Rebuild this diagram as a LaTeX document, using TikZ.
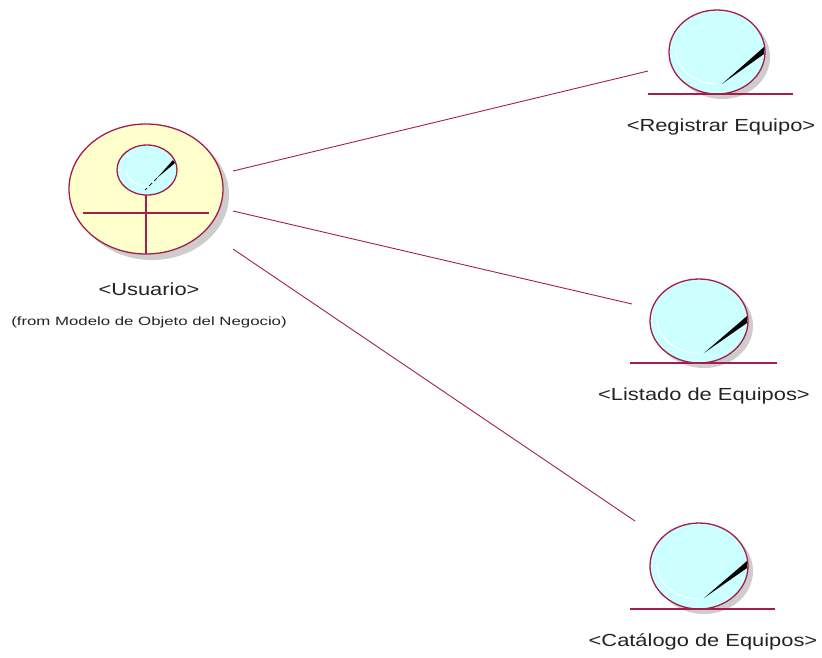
\documentclass[tikz,border=0pt]{standalone}
\usepackage{fontspec}
\setmainfont{Liberation Sans}
\newfontfamily\labfont[FakeStretch=1.25]{Liberation Sans}
\newfontfamily\smallfont[FakeStretch=1.4]{Liberation Sans}
\definecolor{umlline}{RGB}{165,30,75}
\definecolor{bluefill}{RGB}{204,255,255}
\definecolor{yellowfill}{RGB}{255,255,204}
\definecolor{shadowc}{RGB}{205,205,205}
\definecolor{txt}{RGB}{35,35,35}
\tikzset{
  umledge/.style={draw=umlline,line width=0.9pt},
  umlbar/.style={draw=umlline,line width=1.2pt},
  bluecirc/.style={draw=umlline,fill=bluefill,line width=1.3pt},
  yellowcirc/.style={draw=umlline,fill=yellowfill,line width=1.3pt},
  shade/.style={fill=shadowc,draw=none},
  shine/.style={draw=white,line width=1pt,line cap=round},
  lab/.style={font=\labfont\fontsize{17.5}{19}\selectfont,text=txt,inner sep=0pt},
  smalllab/.style={font=\smallfont\fontsize{12}{14}\selectfont,text=txt,inner sep=0pt},
}
\newcommand{\entity}[4]{%
  \fill[shade] (#1+5,#2+5) ellipse [x radius=#3,y radius=#4];
  \draw[bluecirc] (#1,#2) ellipse [x radius=#3,y radius=#4];
  \draw[shine] (#1-#3+7,#2-2) arc [start angle=180,end angle=90,x radius=#3-7,y radius=#4-8];
  \fill[black] (#1+#3-1,#2-5) -- (#1+#3-1,#2+2) -- (#1+5,#2+32) -- cycle;
}
\begin{document}
\begin{tikzpicture}[x=1pt,y=-1pt]
\useasboundingbox (0,0) rectangle (822,657);
% actor
\fill[shade] (152,195) ellipse [x radius=77,y radius=65];
\draw[yellowcirc] (146,189) ellipse [x radius=77,y radius=65];
\draw[bluecirc] (147,170) ellipse [x radius=30,y radius=25];
\draw[shine] (126,169) arc [start angle=180,end angle=90,x radius=21,y radius=17];
\fill[black] (173,160) -- (175,163) -- (157,178) -- cycle;
\draw[black,line width=0.7pt,dash pattern=on 4pt off 3pt] (157,178) -- (145,190);
\draw[umlbar] (83,213) -- (209,213);
\draw[umlbar] (146,195) -- (146,254);
% entities
\entity{717}{52}{48}{42}
\draw[umlbar] (648,94) -- (793,94);
\entity{699}{321}{49}{42}
\draw[umlbar] (630,363) -- (777,363);
\entity{699}{566}{49}{43}
\draw[umlbar] (630,609) -- (775,609);
% labels
\node[lab] (usuario) at (149,289) {<Usuario>};
\node[smalllab] (from) at (149,322) {(from Modelo de Objeto del Negocio)};
\node[lab] (reg) at (721,127) {<Registrar Equipo>};
\node[lab] (lis) at (704,396) {<Listado de Equipos>};
\node[lab] (cat) at (703,642) {<Catálogo de Equipos>};
% connectors
\coordinate (a1) at (233,171); \coordinate (e1) at (648,71);
\coordinate (a2) at (233,211); \coordinate (e2) at (632,304);
\coordinate (a3) at (233,249); \coordinate (e3) at (635,521);
\draw[umledge] (a1) -- (e1);
\draw[umledge] (a2) -- (e2);
\draw[umledge] (a3) -- (e3);
\end{tikzpicture}
\end{document}
